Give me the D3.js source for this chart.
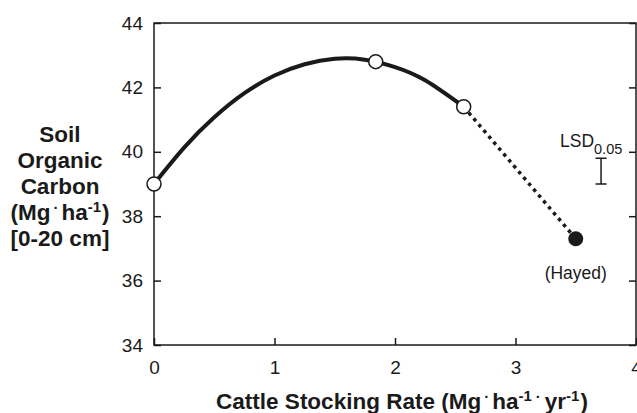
<!DOCTYPE html>
<html>
<head>
<meta charset="utf-8">
<script src="https://cdn.jsdelivr.net/npm/d3@7"></script>
<style>
  html, body { margin: 0; padding: 0; background: #fff; }
  svg { display: block; }
  text { font-family: "Liberation Sans", Arial, sans-serif; fill: #1a1a1a; }
</style>
</head>
<body>
<svg id="chart" width="637" height="413"></svg>
<script>
// ---- data ----
const xTicks = [0, 1, 2, 3, 4];
const yTicks = [34, 36, 38, 40, 42, 44];
// grazed treatments (open circles)
const grazedX = [0, 1.84, 2.57];
const grazedY = [39.0, 42.8, 41.4];
// hayed treatment (filled circle)
const hayedX = [3.5];
const hayedY = [37.3];
// fitted response curve
const fitX = [0, 0.25, 0.5, 0.75, 1.0, 1.25, 1.5, 1.75, 2.0, 2.25, 2.57];
const fitY = [39.0, 40.13, 41.07, 41.82, 42.37, 42.72, 42.89, 42.86, 42.63, 42.22, 41.4];
// LSD(0.05) bar
const lsdX = [3.71];
const lsdLow = [39.0];
const lsdHigh = [39.8];

const svg = d3.select("#chart");
const x = d3.scaleLinear().domain([0, 4]).range([154, 636]);
const y = d3.scaleLinear().domain([34, 44]).range([345, 23]);
const ink = "#1a1a1a";
const TICK = 7;

// axes (ticks inward)
const gl = svg.append("g").attr("transform", `translate(${x(0)},0)`)
  .call(d3.axisLeft(y).tickValues(yTicks).tickSize(-TICK).tickPadding(11).tickFormat(d3.format("d")));
const gb = svg.append("g").attr("transform", `translate(0,${y(34)})`)
  .call(d3.axisBottom(x).tickValues(xTicks).tickSize(-TICK).tickPadding(16).tickFormat(d3.format("d")));
const gr = svg.append("g").attr("transform", `translate(${x(4)},0)`)
  .call(d3.axisRight(y).tickValues(yTicks).tickSize(-TICK).tickFormat(""));
[gl, gb, gr].forEach(g => {
  g.select(".domain").remove();
  g.selectAll("line").attr("stroke", ink).attr("stroke-width", 1.5);
  g.selectAll("text").attr("font-size", 19).attr("fill", ink)
    .style("font-family", '"Liberation Sans", Arial, sans-serif');
});

// frame
svg.append("rect")
  .attr("x", x(0)).attr("y", y(44))
  .attr("width", x(4) - x(0)).attr("height", y(34) - y(44))
  .attr("fill", "none").attr("stroke", ink).attr("stroke-width", 1.5);

// fitted curve
const fitData = fitX.map((v, i) => [v, fitY[i]]);
svg.append("path").datum(fitData)
  .attr("d", d3.line().x(d => x(d[0])).y(d => y(d[1])).curve(d3.curveNatural))
  .attr("fill", "none").attr("stroke", ink).attr("stroke-width", 4).attr("stroke-linecap", "round");

// dotted extension to hayed
const last = grazedX.length - 1;
svg.append("line")
  .attr("x1", x(grazedX[last])).attr("y1", y(grazedY[last]))
  .attr("x2", x(hayedX[0])).attr("y2", y(hayedY[0]))
  .attr("stroke", ink).attr("stroke-width", 3.5).attr("stroke-dasharray", "3.5,4.2");

// points
svg.selectAll("circle.open").data(grazedX.map((v, i) => [v, grazedY[i]])).join("circle")
  .attr("class", "open")
  .attr("cx", d => x(d[0])).attr("cy", d => y(d[1])).attr("r", 7)
  .attr("fill", "#fff").attr("stroke", ink).attr("stroke-width", 1.5);
svg.selectAll("circle.filled").data(hayedX.map((v, i) => [v, hayedY[i]])).join("circle")
  .attr("class", "filled")
  .attr("cx", d => x(d[0])).attr("cy", d => y(d[1])).attr("r", 7.5)
  .attr("fill", ink);

svg.append("text").attr("x", x(hayedX[0])).attr("y", y(hayedY[0]) + 40)
  .attr("text-anchor", "middle").attr("font-size", 17.5).text("(Hayed)");

// LSD bar
const lx = x(lsdX[0]);
const lsdG = svg.append("g").attr("stroke", ink).attr("stroke-width", 1.5);
lsdG.append("line").attr("x1", lx).attr("x2", lx).attr("y1", y(lsdHigh[0])).attr("y2", y(lsdLow[0]));
lsdG.append("line").attr("x1", lx - 5.5).attr("x2", lx + 5.5).attr("y1", y(lsdHigh[0])).attr("y2", y(lsdHigh[0]));
lsdG.append("line").attr("x1", lx - 5.5).attr("x2", lx + 5.5).attr("y1", y(lsdLow[0])).attr("y2", y(lsdLow[0]));
const lsdT = svg.append("text").attr("x", 560).attr("y", 147).attr("font-size", 17.5);
lsdT.append("tspan").text("LSD");
lsdT.append("tspan").attr("font-size", 14.5).attr("dy", 7).text("0.05");

// rich text helper: segments [text, shift, dx] shift>0 raises
function rich(sel, segs, supSize) {
  let cur = 0;
  segs.forEach(([t, s, dx]) => {
    const ts = sel.append("tspan").attr("dy", cur - s).text(t);
    if (dx) ts.attr("dx", dx);
    if (s) ts.attr("font-size", supSize);
    cur = s;
  });
  if (cur) sel.append("tspan").attr("dy", cur).text("");
}

// y-axis title
const yLines = [
  [["Soil", 0]],
  [["Organic", 0]],
  [["Carbon", 0]],
  [["(Mg", 0], ["·", 7, 3], ["ha", 0, 3], ["-1", 8], [")", 0, 1]],
  [["[0-20 cm]", 0]]
];
const yBase = [142, 168, 194, 220, 246];
yLines.forEach((segs, i) => {
  const t = svg.append("text").attr("x", 60).attr("y", yBase[i])
    .attr("text-anchor", "middle").attr("font-size", 22.5).attr("font-weight", "bold");
  rich(t, segs, 15);
});

// x-axis title
const xt = svg.append("text").attr("x", 402).attr("y", 409)
  .attr("text-anchor", "middle").attr("font-size", 22.5).attr("font-weight", "bold");
rich(xt, [["Cattle Stocking Rate (Mg", 0], ["·", 7, 3], ["ha", 0, 3], ["-1", 8], ["·", 7, 4], ["yr", 0, 4], ["-1", 8], [")", 0, 1]], 15);
</script>
</body>
</html>
